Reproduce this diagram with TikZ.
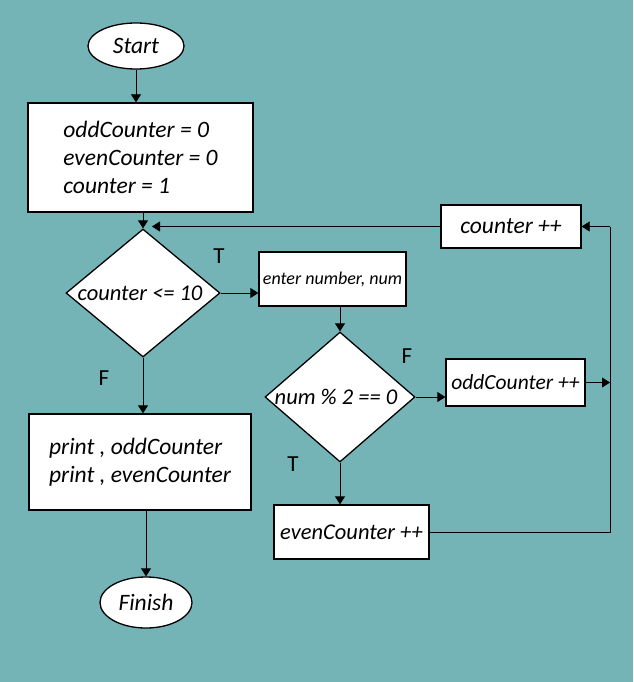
\documentclass[tikz,border=0pt]{standalone}
\usepackage{fontspec}
\setmainfont{Carlito}
\usetikzlibrary{shapes.geometric,arrows.meta}
\definecolor{bgteal}{RGB}{116,180,182}
\begin{document}
\begin{tikzpicture}[x=1pt,y=-1pt,
  every node/.style={font=\fontsize{23.5}{28}\selectfont\itshape},
  tight/.style={font=\fontsize{#1}{28}\selectfont\itshape},
  box/.style={draw,fill=white,line width=1.3pt,inner sep=0pt,align=left},
  term/.style={draw,fill=white,ellipse,line width=1.3pt,inner sep=0pt},
  decision/.style={draw,fill=white,diamond,line width=1.3pt,inner sep=0pt},
  lbl/.style={font=\fontsize{23}{26}\selectfont\upshape},
  arr/.style={line width=0.8pt,-{Triangle[length=8pt,width=10pt]}},
  wire/.style={line width=0.8pt}]
% canvas
\fill[bgteal] (0,0) rectangle (633,682);
\useasboundingbox (0,0) rectangle (633,682);

% nodes
\node[term,minimum width=96pt,minimum height=46pt] (start) at (136,46) {Start};
\node[box,minimum width=225pt,minimum height=109pt] (init) at (140.5,157.5)
  {oddCounter = 0\\evenCounter = 0\\counter = 1};
\node[decision,minimum width=154pt,minimum height=128pt] (d1) at (143,293) {};
\node[tight=22.5] (d1text) at ([xshift=-3pt]d1.center) {counter <= 10};
\node[box,minimum width=147pt,minimum height=54pt,tight=18] (enter) at (332.5,279) {enter number, num};
\node[decision,minimum width=150pt,minimum height=130pt] (d2) at (340,397) {};
\node[tight=22.5] (d2text) at ([xshift=-4pt]d2.center) {num \% 2 == 0};
\node[box,minimum width=139pt,minimum height=47pt,tight=21.5] (odd) at (515.5,382.5) {oddCounter ++};
\node[box,minimum width=155pt,minimum height=54pt,tight=22.5] (even) at (351.5,532) {evenCounter ++};
\node[box,minimum width=140pt,minimum height=43pt] (inc) at (511,226.5) {counter ++};
\node[box,minimum width=222pt,minimum height=96pt] (print) at (140,462)
  {print , oddCounter\\print , evenCounter};
\node[term,minimum width=92pt,minimum height=51pt] (finish) at (146,602.5) {Finish};

% branch labels
\node[lbl] (t1) at (219,256) {T};
\node[lbl] (f1) at (104,378) {F};
\node[lbl] (f2) at (407,356) {F};
\node[lbl] (t2) at (293,464) {T};

% junction points of the loop
\coordinate (cb) at (610,532);
\coordinate (ct) at (610,226.5);
\coordinate (loopend) at ([xshift=9pt]d1.north |- inc.west);

% main flow
\draw[arr] (start.south) -- (start.south |- init.north);
\draw[arr] (d1.north |- init.south) -- (d1.north);
\draw[arr] (d1.east) -- (d1.east -| enter.west);
\draw[arr] (d2.north |- enter.south) -- (d2.north);
\draw[arr] (d2.east) -- (d2.east -| odd.west);
\draw[arr] (d2.south) -- (d2.south |- even.north);
\draw[arr] (d1.south) -- (d1.south |- print.north);
\draw[arr] (finish.north |- print.south) -- (finish.north);

% loop back to the test
\draw[arr] (odd.east) -- (odd.east -| cb);
\draw[wire] (even.east) -- (cb) -- (ct);
\draw[arr] (ct) -- (inc.east);
\draw[arr] (inc.west) -- (loopend);
\end{tikzpicture}
\end{document}
